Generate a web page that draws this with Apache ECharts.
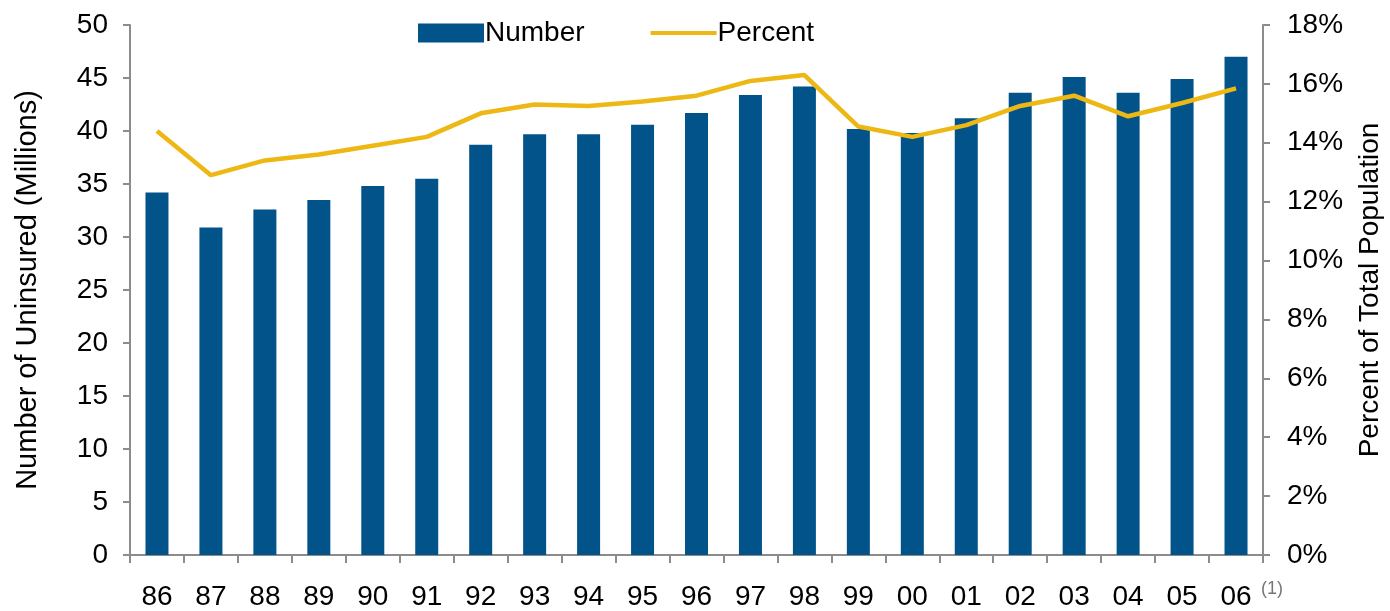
<!DOCTYPE html>
<html>
<head>
<meta charset="utf-8">
<script src="https://cdn.jsdelivr.net/npm/echarts@6/dist/echarts.min.js"></script>
<style>
  html, body { margin: 0; padding: 0; background: #fff; }
  #chart { width: 1390px; height: 611px; }
</style>
</head>
<body>
<div id="chart"></div>
<script>
const years = ['86', '87', '88', '89', '90', '91', '92', '93', '94', '95', '96',
  '97', '98', '99', '00', '01', '02', '03', '04', '05', '06']
const uninsured = [34.2, 30.9, 32.6, 33.5, 34.8, 35.5, 38.7, 39.7, 39.7, 40.6, 41.7,
  43.4, 44.2, 40.2, 39.8, 41.2, 43.6, 45.1, 43.6, 44.9, 47.0]
const percent = [14.4, 12.9, 13.4, 13.6, 13.9, 14.2, 15.0, 15.3, 15.25, 15.4, 15.6,
  16.1, 16.3, 14.55, 14.2, 14.6, 15.25, 15.6, 14.9, 15.35, 15.85]

const font = 'Liberation Sans, Arial, sans-serif'
const axisGray = '#8c8c8c'
const barColor = '#02538A'
const lineColor = '#EDB814'

const chart = echarts.init(document.getElementById('chart'), null, {renderer: 'canvas'})

chart.setOption({
  animation: false,
  textStyle: {fontFamily: font},
  legend: {
    top: 14,
    left: 413,
    itemWidth: 66,
    itemHeight: 19,
    itemGap: 66,
    textStyle: {fontSize: 28, color: '#000', fontFamily: font, padding: [0, 0, 0, -4]},
    data: [
      {name: 'Number', icon: 'rect'},
      {name: 'Percent', icon: 'path://M0,0 L66,0 L66,4 L0,4 Z', itemStyle: {color: lineColor}}
    ]
  },
  grid: {left: 130, right: 127, top: 25, bottom: 56, outerBoundsMode: 'none'},
  xAxis: {
    type: 'category',
    data: years,
    axisLine: {lineStyle: {color: axisGray, width: 2}},
    axisTick: {show: true, length: 8, lineStyle: {color: axisGray, width: 2}},
    axisLabel: {fontSize: 28, color: '#000', margin: 28, fontFamily: font}
  },
  yAxis: [
    {
      type: 'value',
      min: 0, max: 50, interval: 5,
      name: 'Number of Uninsured (Millions)',
      nameLocation: 'middle',
      nameGap: 88,
      nameRotate: 90,
      nameTextStyle: {fontSize: 29, color: '#000', fontFamily: font},
      axisLine: {show: true, lineStyle: {color: axisGray, width: 2}},
      axisTick: {show: true, length: 7, lineStyle: {color: axisGray, width: 2}},
      axisLabel: {fontSize: 28, color: '#000', margin: 22, fontFamily: font},
      splitLine: {show: false}
    },
    {
      type: 'value',
      min: 0, max: 18, interval: 2,
      name: 'Percent of Total Population',
      nameLocation: 'middle',
      nameGap: 93,
      nameRotate: 90,
      nameTextStyle: {fontSize: 28, color: '#000', fontFamily: font},
      axisLine: {show: true, lineStyle: {color: axisGray, width: 2}},
      axisTick: {show: true, length: 7, lineStyle: {color: axisGray, width: 2}},
      axisLabel: {fontSize: 28, color: '#000', margin: 24, fontFamily: font, formatter: '{value}%'},
      splitLine: {show: false}
    }
  ],
  series: [
    {
      name: 'Number',
      type: 'bar',
      yAxisIndex: 0,
      barWidth: 23,
      itemStyle: {color: barColor},
      data: uninsured
    },
    {
      name: 'Percent',
      type: 'line',
      yAxisIndex: 1,
      symbol: 'none',
      lineStyle: {color: lineColor, width: 4.5},
      itemStyle: {color: lineColor},
      data: percent
    }
  ],
  graphic: [
    {
      type: 'text',
      left: 1261,
      top: 580,
      style: {text: '(1)', fontSize: 18, fill: '#777', fontFamily: font}
    }
  ]
})
</script>
</body>
</html>
